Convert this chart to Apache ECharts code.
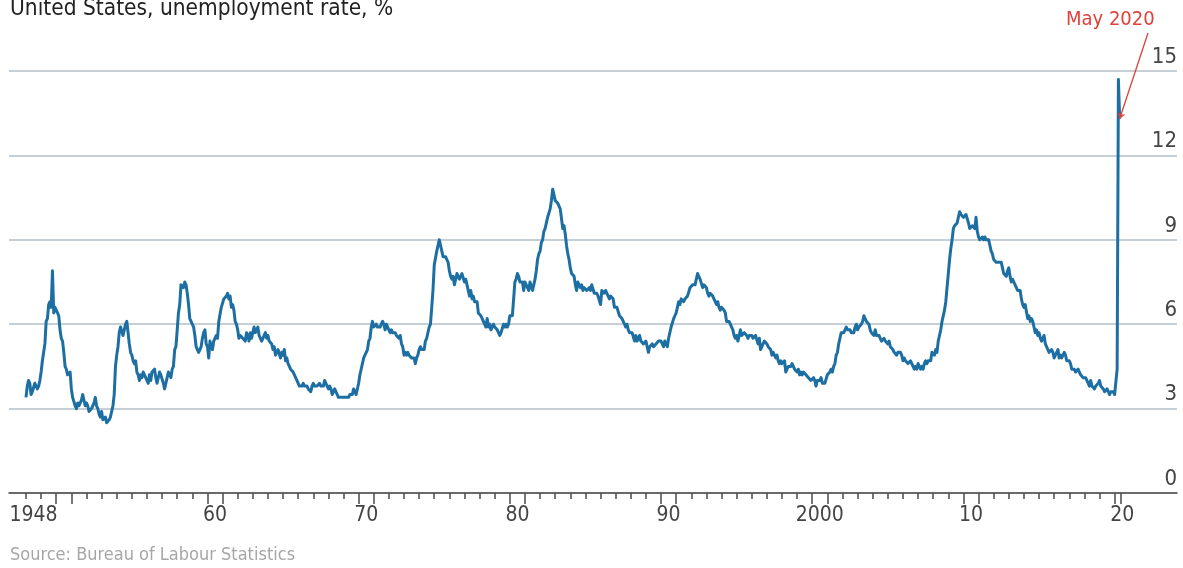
<!DOCTYPE html>
<html>
<head>
<meta charset="utf-8">
<script src="https://cdn.jsdelivr.net/npm/echarts@6/dist/echarts.min.js"></script>
<style>
  html, body { margin: 0; padding: 0; background: #ffffff; }
  #chart { width: 1183px; height: 568px; }
</style>
</head>
<body>
<div id="chart"></div>
<script>
// ---- Data: US unemployment rate, monthly, % ----
const startYear = 1948;
const rate1940s = [
  3.4, 3.8, 4.0, 3.9, 3.5, 3.6, 3.6, 3.9, 3.8, 3.7, 3.8, 4.0, // 1948
  4.3, 4.7, 5.0, 5.3, 6.1, 6.2, 6.7, 6.8, 6.6, 7.9, 6.4, 6.6  // 1949
];
const rate1950s = [
  6.5, 6.4, 6.3, 5.8, 5.5, 5.4, 5.0, 4.5, 4.4, 4.2, 4.2, 4.3,
  3.7, 3.4, 3.4, 3.1, 3.0, 3.2, 3.1, 3.1, 3.3, 3.5, 3.5, 3.1,
  3.2, 3.1, 2.9, 2.9, 3.0, 3.0, 3.2, 3.4, 3.1, 3.0, 2.8, 2.7,
  2.9, 2.6, 2.6, 2.7, 2.5, 2.5, 2.6, 2.7, 2.9, 3.1, 3.5, 4.5,
  4.9, 5.2, 5.7, 5.9, 5.9, 5.6, 5.8, 6.0, 6.1, 5.7, 5.3, 5.0,
  4.9, 4.7, 4.6, 4.7, 4.3, 4.2, 4.0, 4.2, 4.1, 4.3, 4.2, 4.2,
  4.0, 3.9, 4.2, 4.0, 4.3, 4.3, 4.4, 4.1, 3.9, 3.9, 4.3, 4.2,
  4.2, 3.9, 3.7, 3.9, 4.1, 4.3, 4.2, 4.1, 4.4, 4.5, 5.1, 5.2,
  5.8, 6.4, 6.7, 7.4, 7.4, 7.3, 7.5, 7.4, 7.1, 6.7, 6.2, 6.2,
  6.0, 5.9, 5.6, 5.2, 5.1, 5.0, 5.1, 5.2, 5.5, 5.7, 5.8, 5.3
];
const rate1960s = [
  5.2, 4.8, 5.4, 5.2, 5.1, 5.4, 5.5, 5.6, 5.5, 6.1, 6.1, 6.6,
  6.6, 6.9, 6.9, 7.0, 7.1, 6.9, 7.0, 6.6, 6.7, 6.5, 6.1, 6.0,
  5.8, 5.5, 5.6, 5.6, 5.5, 5.5, 5.4, 5.7, 5.6, 5.4, 5.7, 5.5,
  5.7, 5.9, 5.7, 5.7, 5.9, 5.6, 5.6, 5.4, 5.5, 5.5, 5.7, 5.5,
  5.6, 5.4, 5.4, 5.3, 5.1, 5.2, 4.9, 5.0, 5.1, 5.1, 4.8, 5.0,
  4.9, 5.1, 4.7, 4.8, 4.6, 4.6, 4.4, 4.4, 4.3, 4.2, 4.1, 4.0,
  4.0, 3.8, 3.8, 3.8, 3.9, 3.8, 3.8, 3.8, 3.7, 3.7, 3.6, 3.8,
  3.9, 3.8, 3.8, 3.8, 3.8, 3.9, 3.8, 3.8, 3.8, 4.0, 3.9, 3.8,
  3.7, 3.8, 3.7, 3.5, 3.5, 3.7, 3.7, 3.5, 3.4, 3.4, 3.4, 3.4,
  3.4, 3.4, 3.4, 3.4, 3.4, 3.5, 3.5, 3.5, 3.7, 3.7, 3.5, 3.5
];
const rate1970s = [
  3.9, 4.2, 4.4, 4.6, 4.8, 4.9, 5.0, 5.1, 5.4, 5.5, 5.9, 6.1,
  5.9, 5.9, 6.0, 5.9, 5.9, 5.9, 6.0, 6.1, 6.0, 5.8, 6.0, 6.0,
  5.8, 5.7, 5.8, 5.7, 5.7, 5.7, 5.6, 5.6, 5.5, 5.6, 5.3, 5.2,
  4.9, 5.0, 4.9, 5.0, 4.9, 4.9, 4.8, 4.8, 4.8, 4.6, 4.8, 4.9,
  5.1, 5.2, 5.1, 5.1, 5.1, 5.4, 5.5, 5.5, 5.9, 6.0, 6.6, 7.2,
  8.1, 8.1, 8.6, 8.8, 9.0, 8.8, 8.6, 8.4, 8.4, 8.4, 8.3, 8.2,
  7.9, 7.7, 7.6, 7.7, 7.4, 7.6, 7.8, 7.8, 7.6, 7.7, 7.8, 7.8,
  7.5, 7.6, 7.4, 7.2, 7.0, 7.2, 6.9, 7.0, 6.8, 6.8, 6.8, 6.4,
  6.4, 6.3, 6.3, 6.1, 6.0, 5.9, 6.2, 5.9, 6.0, 5.8, 5.9, 6.0,
  5.9, 5.9, 5.8, 5.8, 5.6, 5.7, 5.7, 6.0, 5.9, 6.0, 5.9, 6.0
];
const rate1980s = [
  6.3, 6.3, 6.3, 6.9, 7.5, 7.6, 7.8, 7.7, 7.5, 7.5, 7.5, 7.2,
  7.5, 7.4, 7.4, 7.2, 7.5, 7.5, 7.2, 7.4, 7.6, 7.9, 8.3, 8.5,
  8.6, 8.9, 9.0, 9.3, 9.4, 9.6, 9.8, 9.8, 10.1, 10.4, 10.8, 10.8,
  10.4, 10.4, 10.3, 10.2, 10.1, 10.1, 9.4, 9.5, 9.2, 8.8, 8.5, 8.3,
  8.0, 7.8, 7.8, 7.7, 7.4, 7.2, 7.5, 7.5, 7.3, 7.4, 7.2, 7.3,
  7.3, 7.2, 7.2, 7.3, 7.2, 7.4, 7.4, 7.1, 7.1, 7.1, 7.0, 7.0,
  6.7, 7.2, 7.2, 7.1, 7.2, 7.2, 7.0, 6.9, 7.0, 7.0, 6.9, 6.6,
  6.6, 6.6, 6.6, 6.3, 6.3, 6.2, 6.1, 6.0, 5.9, 6.0, 5.8, 5.7,
  5.7, 5.7, 5.7, 5.4, 5.6, 5.4, 5.4, 5.6, 5.4, 5.4, 5.3, 5.3,
  5.4, 5.2, 5.0, 5.2, 5.2, 5.3, 5.2, 5.2, 5.3, 5.3, 5.4, 5.4
];
const rate1990s = [
  5.4, 5.3, 5.2, 5.4, 5.4, 5.2, 5.5, 5.7, 5.9, 5.9, 6.2, 6.3,
  6.4, 6.6, 6.8, 6.7, 6.9, 6.9, 6.8, 6.9, 6.9, 7.0, 7.0, 7.3,
  7.3, 7.4, 7.4, 7.4, 7.6, 7.8, 7.7, 7.6, 7.6, 7.3, 7.4, 7.4,
  7.3, 7.1, 7.0, 7.1, 7.1, 7.0, 6.9, 6.8, 6.7, 6.8, 6.6, 6.5,
  6.6, 6.6, 6.5, 6.4, 6.1, 6.1, 6.1, 6.0, 5.9, 5.8, 5.6, 5.5,
  5.6, 5.4, 5.4, 5.8, 5.6, 5.6, 5.7, 5.7, 5.6, 5.5, 5.6, 5.6,
  5.6, 5.5, 5.5, 5.6, 5.6, 5.3, 5.5, 5.1, 5.2, 5.2, 5.4, 5.4,
  5.3, 5.2, 5.2, 5.1, 4.9, 5.0, 4.9, 4.8, 4.9, 4.7, 4.6, 4.7,
  4.6, 4.6, 4.7, 4.3, 4.4, 4.5, 4.5, 4.5, 4.6, 4.5, 4.4, 4.4,
  4.3, 4.4, 4.2, 4.3, 4.2, 4.3, 4.3, 4.2, 4.2, 4.1, 4.1, 4.0
];
const rate2000s = [
  4.0, 4.1, 4.0, 3.8, 4.0, 4.0, 4.0, 4.1, 3.9, 3.9, 3.9, 3.9,
  4.2, 4.2, 4.3, 4.4, 4.3, 4.5, 4.6, 4.9, 5.0, 5.3, 5.5, 5.7,
  5.7, 5.7, 5.7, 5.9, 5.8, 5.8, 5.8, 5.7, 5.7, 5.7, 5.9, 6.0,
  5.8, 5.9, 5.9, 6.0, 6.1, 6.3, 6.2, 6.1, 6.1, 6.0, 5.8, 5.7,
  5.7, 5.6, 5.8, 5.6, 5.6, 5.6, 5.5, 5.4, 5.4, 5.5, 5.4, 5.4,
  5.3, 5.4, 5.2, 5.2, 5.1, 5.0, 5.0, 4.9, 5.0, 5.0, 5.0, 4.9,
  4.7, 4.8, 4.7, 4.7, 4.6, 4.6, 4.7, 4.7, 4.5, 4.4, 4.5, 4.4,
  4.6, 4.5, 4.4, 4.5, 4.4, 4.6, 4.7, 4.6, 4.7, 4.7, 4.7, 5.0,
  5.0, 4.9, 5.1, 5.0, 5.4, 5.6, 5.8, 6.1, 6.1, 6.5, 6.8, 7.3,
  7.8, 8.3, 8.7, 9.0, 9.4, 9.5, 9.5, 9.6, 9.8, 10.0, 9.9, 9.9
];
const rate2010s = [
  9.8, 9.8, 9.9, 9.9, 9.6, 9.4, 9.4, 9.5, 9.5, 9.4, 9.8, 9.3,
  9.1, 9.0, 9.0, 9.1, 9.0, 9.1, 9.0, 9.0, 9.0, 8.8, 8.6, 8.5,
  8.3, 8.3, 8.2, 8.2, 8.2, 8.2, 8.2, 8.0, 7.8, 7.8, 7.7, 7.9,
  8.0, 7.7, 7.5, 7.6, 7.5, 7.5, 7.3, 7.2, 7.2, 7.2, 6.9, 6.7,
  6.6, 6.7, 6.7, 6.2, 6.3, 6.1, 6.2, 6.1, 5.9, 5.7, 5.8, 5.6,
  5.7, 5.5, 5.4, 5.4, 5.6, 5.3, 5.2, 5.1, 5.0, 5.0, 5.1, 5.0,
  4.8, 4.9, 5.0, 5.1, 4.8, 4.9, 4.8, 4.9, 5.0, 4.9, 4.7, 4.7,
  4.7, 4.6, 4.4, 4.4, 4.4, 4.3, 4.3, 4.4, 4.3, 4.2, 4.2, 4.1,
  4.1, 4.1, 4.0, 4.0, 3.8, 4.0, 3.8, 3.8, 3.7, 3.8, 3.8, 3.9,
  4.0, 3.8, 3.8, 3.7, 3.6, 3.6, 3.7, 3.6, 3.5, 3.6, 3.6, 3.6
];
const rate2020s = [3.5, 3.5, 4.4, 14.7, 13.3];

// Axis labels
const labelYears = [1948, 1960, 1970, 1980, 1990, 2000, 2010, 2020];
const labelTexts = ['1948', '60', '70', '80', '90', '2000', '10', '20'];
const annotationText = 'May 2020';
const titleText = 'United States, unemployment rate, %';
const sourceText = 'Source: Bureau of Labour Statistics';

// ---- Build ----
const allRates = [].concat(rate1940s, rate1950s, rate1960s, rate1970s,
  rate1980s, rate1990s, rate2000s, rate2010s, rate2020s);
const seriesData = allRates.map((v, i) => [startYear + i / 12, v]);
const lastPoint = seriesData[seriesData.length - 1];

const minorTicks = [];
for (let y = 1948; y <= 2020; y++) minorTicks.push(y);
const majorTicks = [];
for (let y = 1950; y <= 2010; y += 10) { majorTicks.push(y, y + 1); }
majorTicks.push(2020, 2020.4);
const labelValues = labelYears.map(y => y + 0.5);

const FONT = '"DejaVu Sans Condensed", "Roboto", sans-serif';
const X_MIN = 1946.875, X_MAX = 2024.125;

const chart = echarts.init(document.getElementById('chart'), null, { renderer: 'canvas' });
chart.setOption({
  animation: false,
  backgroundColor: '#ffffff',
  grid: { left: 9, right: 6, top: 71, bottom: 75, containLabel: false },
  xAxis: [
    {
      type: 'value', min: X_MIN, max: X_MAX, position: 'bottom',
      axisLine: { show: true, onZero: false, lineStyle: { color: '#4a4a4a', width: 1.5 } },
      axisTick: { show: true, customValues: minorTicks, length: 6, lineStyle: { color: '#4a4a4a', width: 1.5 } },
      axisLabel: {
        show: true, customValues: labelValues, margin: 12,
        fontFamily: FONT, fontSize: 21, color: '#444',
        formatter: function (v) {
          const i = labelValues.findIndex(x => Math.abs(x - v) < 1e-6);
          return i >= 0 ? labelTexts[i] : '';
        }
      },
      splitLine: { show: false }
    },
    {
      type: 'value', min: X_MIN, max: X_MAX, position: 'bottom',
      axisLine: { show: false, onZero: false },
      axisTick: { show: true, customValues: majorTicks, length: 11, lineStyle: { color: '#4a4a4a', width: 1.5 } },
      axisLabel: { show: false },
      splitLine: { show: false }
    }
  ],
  yAxis: {
    type: 'value', min: 0, max: 15, interval: 3, position: 'right',
    axisLine: { show: false }, axisTick: { show: false },
    axisLabel: {
      inside: true, margin: 0, fontFamily: FONT, fontSize: 22, color: '#444',
      verticalAlign: 'bottom', padding: [0, 0, 3, 0]
    },
    splitLine: { show: true, lineStyle: { color: '#b3bfc8', width: 1.5 } }
  },
  graphic: [
    { type: 'text', left: 10, top: -2, style: { text: titleText, fontFamily: FONT, fontSize: 22.5, fill: '#222' } },
    { type: 'text', left: 10, top: 546, style: { text: sourceText, fontFamily: FONT, fontSize: 18, fill: '#a6a6a6' } },
    { type: 'text', left: 1066, top: 10, style: { text: annotationText, fontFamily: FONT, fontSize: 20, fill: '#e0403a' } }
  ],
  series: [{
    type: 'line', xAxisIndex: 0, yAxisIndex: 0,
    data: seriesData, showSymbol: false, smooth: false,
    lineStyle: { color: '#1d6fa3', width: 3, join: 'round' },
    z: 3,
    markLine: {
      silent: true, animation: false,
      symbol: ['none', 'arrow'], symbolSize: 6,
      lineStyle: { color: '#e0403a', width: 1.3, type: 'solid' },
      label: { show: false },
      data: [[ { x: 1148, y: 33 }, { coord: lastPoint } ]]
    }
  }]
});
</script>
</body>
</html>
